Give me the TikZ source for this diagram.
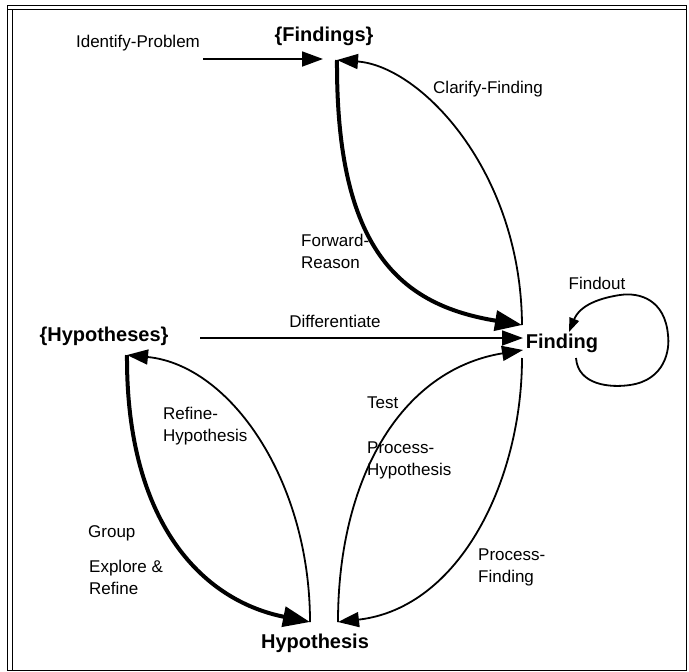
\documentclass[tikz,border=0pt]{standalone}
\usepackage{fontspec}
\setmainfont{Liberation Sans}
\usetikzlibrary{arrows.meta}

\begin{document}
\begin{tikzpicture}[x=1pt,y=-1pt,
  lbl/.style={inner sep=0pt, font=\fontsize{17}{22}\selectfont, align=left},
  concept/.style={inner sep=0pt, font=\fontsize{20}{24}\selectfont\bfseries},
  thin/.style={line width=1.8pt, -{Triangle[length=21pt,width=15pt]}},
  heavy/.style={line width=4pt, -{Triangle[length=27pt,width=20pt]}},
  frameline/.style={line width=1.6pt}]

\useasboundingbox (0,0) rectangle (689,672);

% outer frame
\draw[frameline] (7.5,5.5) rectangle (686.5,670.5);
\draw[line width=1.2pt] (12.5,9) -- (12.5,670.5);
\draw[line width=1.2pt] (7.5,9.5) -- (686.5,9.5);

% concepts
\node[concept] (findings)   at (324,36)  {\{Findings\}};
\node[concept] (finding)    at (562,343) {Finding};
\node[concept] (hypotheses) at (104,336) {\{Hypotheses\}};
\node[concept] (hypothesis) at (315,643) {Hypothesis};

% labels
\node[lbl] (lidp)  at (138,43)  {Identify-Problem};
\node[lbl] (lclf)  at (488,89)  {Clarify-Finding};
\node[lbl, anchor=north west] (lfwd) at (301,234) {Forward-\\Reason};
\node[lbl] (lfo)   at (597,283) {Findout};
\node[lbl] (ldif)  at (335,321) {Differentiate};
\node[lbl, anchor=west] (ltst) at (367,403) {Test};
\node[lbl, anchor=north west] (lph) at (367,442) {Process-\\Hypothesis};
\node[lbl, anchor=north west] (lrh) at (163,407) {Refine-\\Hypothesis};
\node[lbl, anchor=west] (lgrp) at (88,533) {Group};
\node[lbl, anchor=north west] (lexp) at (89,560) {Explore \&\\Refine};
\node[lbl, anchor=north west] (lpf) at (478,549) {Process-\\Finding};

% attachment points
\coordinate (ip)     at (203,59);
\coordinate (fsin)   at (323,59);
\coordinate (fstop)  at (337,60);
\coordinate (fda)    at (522,325);
\coordinate (fdb)    at (523,338);
\coordinate (fdc)    at (523,350);
\coordinate (fdd)    at (522,358);
\coordinate (hsline) at (200,338);
\coordinate (hstip)  at (127,355);
\coordinate (hyl)    at (310,622);
\coordinate (hyr)    at (338,622);
\coordinate (loopin) at (576,358);
\coordinate (loopend) at (569,332);

% connectors
\draw[thin] (ip) -- (fsin);
\draw[thin] (fda) .. controls (521,170) and (420,66) .. (fstop);
\draw[heavy] (fstop) .. controls (336,250) and (400,305) .. (fda);
\draw[thin] (hsline) -- (fdb);
\draw[thin] (hyr) .. controls (338,480) and (400,370) .. (fdc);
\draw[thin] (fdd) .. controls (522,480) and (460,608) .. (hyr);
\draw[thin] (hyl) .. controls (310,480) and (230,365) .. (hstip);
\draw[heavy] (hstip) .. controls (126,520) and (200,600) .. (hyl);
\draw[line width=1.8pt, -{Triangle[length=14pt,width=10pt]}]
  (loopin) .. controls (578,385) and (610,388) .. (630,385)
  .. controls (665,380) and (670,350) .. (668,335)
  .. controls (665,300) and (640,292) .. (620,295)
  .. controls (600,298) and (580,305) .. (loopend);
\end{tikzpicture}
\end{document}
